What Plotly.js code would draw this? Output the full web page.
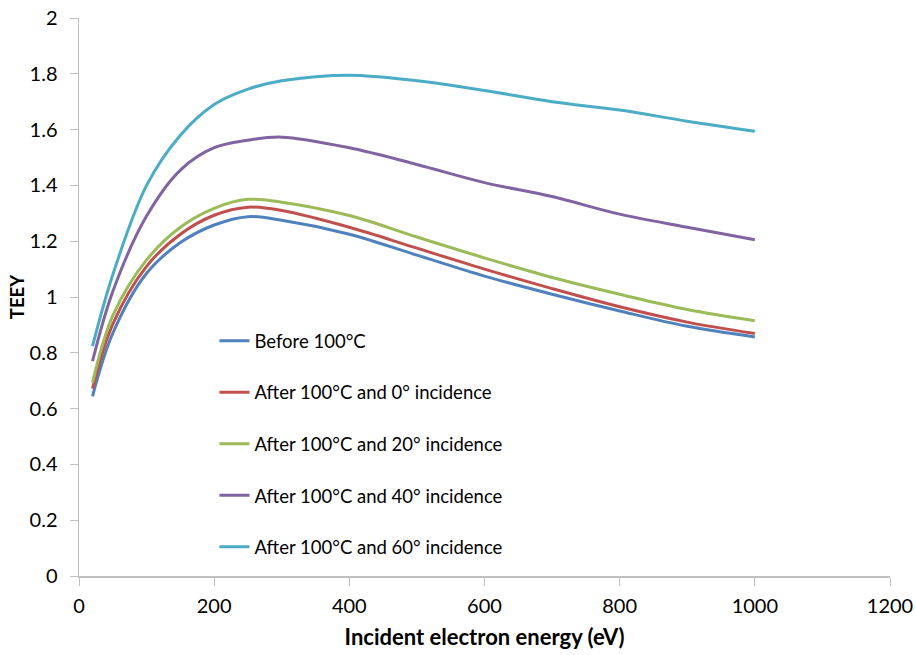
<!DOCTYPE html>
<html>
<head>
<meta charset="utf-8">
<script src="https://cdn.plot.ly/plotly-3.0.1.min.js"></script>
<style>html,body{margin:0;padding:0;background:#fff;}#chart{width:916px;height:655px;}</style>
</head>
<body>
<div id="chart"></div>
<script>
const energy = [20, 50, 100, 150, 200, 250, 300, 400, 500, 600, 700, 800, 900, 1000];
const before100 = [0.644, 0.87, 1.085, 1.195, 1.258, 1.288, 1.275, 1.225, 1.15, 1.075, 1.01, 0.95, 0.895, 0.857];
const inc0 = [0.672, 0.903, 1.11, 1.225, 1.293, 1.322, 1.31, 1.25, 1.175, 1.10, 1.03, 0.965, 0.91, 0.869];
const inc20 = [0.693, 0.933, 1.133, 1.25, 1.318, 1.35, 1.34, 1.292, 1.215, 1.14, 1.07, 1.01, 0.955, 0.915];
const inc40 = [0.770, 1.02, 1.29, 1.455, 1.535, 1.562, 1.573, 1.535, 1.475, 1.41, 1.36, 1.297, 1.25, 1.205];
const inc60 = [0.824, 1.08, 1.40, 1.58, 1.69, 1.745, 1.775, 1.795, 1.775, 1.74, 1.70, 1.67, 1.63, 1.594];
const seriesNames = ["Before 100°C", "After 100°C and 0° incidence", "After 100°C and 20° incidence", "After 100°C and 40° incidence", "After 100°C and 60° incidence"];
const seriesColors = ["#4F81BD", "#C0504D", "#9BBB59", "#8064A2", "#4BACC6"];
const seriesValues = [before100, inc0, inc20, inc40, inc60];

const traces = seriesValues.map((vals, i) => ({
  x: energy, y: vals, type: 'scatter', mode: 'lines', name: seriesNames[i],
  legendgroup: 'g' + i,
  line: {color: seriesColors[i], width: 3, shape: 'spline', smoothing: 1}
}));

const fontFam = 'Lato, "Open Sans", sans-serif';
const layout = {
  width: 916, height: 655,
  margin: {l: 79, r: 26, t: 18, b: 79},
  paper_bgcolor: '#fff', plot_bgcolor: '#fff',
  font: {family: fontFam, color: '#000', size: 20},
  showlegend: true,
  legend: {x: 0.167, y: 0.455, xanchor: 'left', yanchor: 'top', traceorder: 'grouped', tracegroupgap: 24.5,
           font: {size: 18.5, family: fontFam}, bgcolor: 'rgba(0,0,0,0)'},
  xaxis: {range: [0, 1200], dtick: 200, tick0: 0, showgrid: false, zeroline: false,
          showline: true, linecolor: '#BFBFBF', linewidth: 1.5, ticks: 'outside', ticklen: 8, tickcolor: '#BFBFBF',
          ticklabelstandoff: 3,
          tickfont: {size: 20}, title: {text: '<b>Incident electron energy (eV)</b>', font: {size: 22}, standoff: 14}},
  yaxis: {range: [0, 2], dtick: 0.2, tick0: 0, showgrid: false, zeroline: false,
          showline: true, linecolor: '#BFBFBF', linewidth: 1.5, ticks: 'outside', ticklen: 8, tickcolor: '#BFBFBF',
          ticklabelstandoff: 8,
          tickfont: {size: 20}, title: {text: '<b>TEEY</b>', font: {size: 18.5}, standoff: 0}}
};
Plotly.newPlot('chart', traces, layout, {displayModeBar: false, staticPlot: true});
</script>
</body>
</html>
